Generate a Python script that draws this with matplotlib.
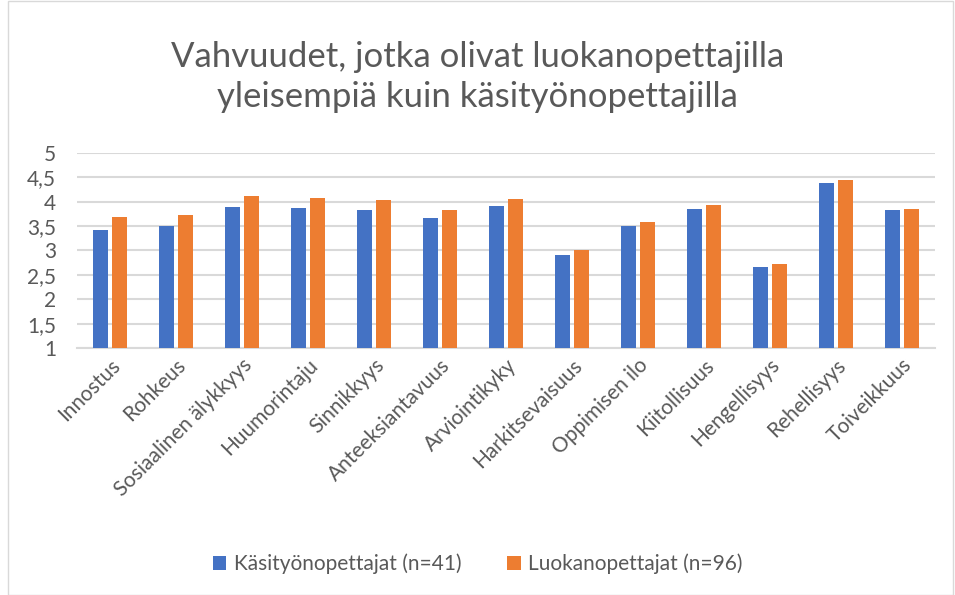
import numpy as np
import matplotlib.pyplot as plt
from matplotlib.patches import Rectangle

categories = ["Innostus", "Rohkeus", "Sosiaalinen älykkyys", "Huumorintaju", "Sinnikkyys",
              "Anteeksiantavuus", "Arviointikyky", "Harkitsevaisuus", "Oppimisen ilo",
              "Kiitollisuus", "Hengellisyys", "Rehellisyys", "Toiveikkuus"]
kasityo = [3.42, 3.50, 3.90, 3.87, 3.84, 3.66, 3.92, 2.90, 3.50, 3.85, 2.66, 4.39, 3.84]
luokan = [3.68, 3.73, 4.11, 4.07, 4.03, 3.82, 4.05, 3.02, 3.58, 3.94, 2.72, 4.44, 3.85]
series_names = ["Käsityönopettajat (n=41)", "Luokanopettajat (n=96)"]
yticks = [1, 1.5, 2, 2.5, 3, 3.5, 4, 4.5, 5]

plt.rcParams['font.family'] = ['Lato', 'DejaVu Sans']
text_col = "#595959"

fig = plt.figure(figsize=(9.55, 5.95), dpi=100)
ax = fig.add_axes([0.0806, 0.415, 0.898, 0.328])

x = np.arange(len(categories))
w = 0.227
ax.bar(x - 0.144, np.array(kasityo) - 1, w, bottom=1, color="#4472C4", label=series_names[0], zorder=3)
ax.bar(x + 0.144, np.array(luokan) - 1, w, bottom=1, color="#ED7D31", label=series_names[1], zorder=3)

ax.set_xlim(-0.5, len(categories) - 0.5)
ax.set_ylim(1, 5)
ax.set_yticks(yticks)
ax.set_yticklabels([f"{v:g}".replace(".", ",") for v in yticks], fontsize=15, color=text_col)
ax.yaxis.grid(True, color="#d9d9d9", linewidth=1.5, zorder=0)
ax.set_axisbelow(True)
ax.tick_params(axis="y", length=0, pad=15)
ax.tick_params(axis="x", length=0, pad=5)
ax.set_xticks(x)
ax.set_xticklabels(categories, rotation=45, ha="right", rotation_mode="anchor",
                   fontsize=15, color=text_col)
for s in ["top", "right", "left"]:
    ax.spines[s].set_visible(False)
ax.spines["bottom"].set_color("#d9d9d9")
ax.spines["bottom"].set_linewidth(1.5)

fig.text(0.5, 0.87, "Vahvuudet, jotka olivat luokanopettajilla\nyleisempiä kuin käsityönopettajilla",
         ha="center", va="center", fontsize=25, color=text_col, linespacing=1.3)

fig.legend(loc="center", bbox_to_anchor=(0.5, 0.052), ncol=2, frameon=False,
           fontsize=15, labelcolor=text_col, handlelength=0.65, handleheight=0.65,
           columnspacing=2.2, handletextpad=0.35)

fig.add_artist(Rectangle((0.008, 0.0), 0.99, 0.998, transform=fig.transFigure,
                         fill=False, edgecolor="#d9d9d9", linewidth=1))

fig.savefig("out.png", dpi=100)
